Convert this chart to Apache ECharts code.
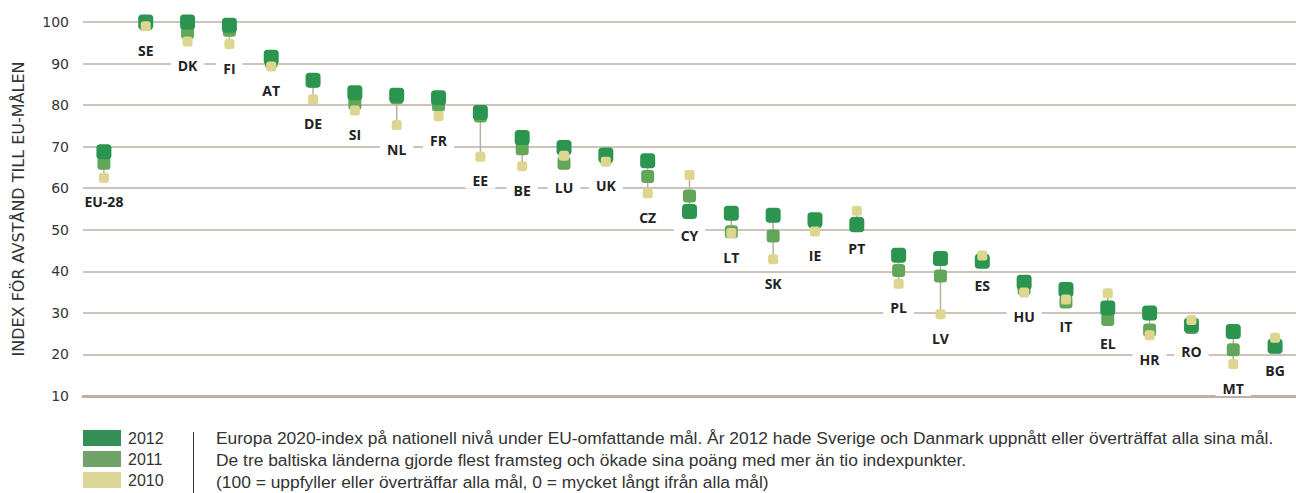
<!DOCTYPE html>
<html>
<head>
<meta charset="utf-8">
<script src="https://cdn.jsdelivr.net/npm/echarts@6/dist/echarts.min.js"></script>
<style>
html,body{margin:0;padding:0;background:#ffffff;}
#chart{width:1296px;height:493px;}
</style>
</head>
<body>
<div id="chart"></div>
<script>
const categories = ['EU-28','SE','DK','FI','AT','DE','SI','NL','FR','EE','BE','LU','UK','CZ','CY','LT','SK','IE','PT','PL','LV','ES','HU','IT','EL','HR','RO','MT','BG'];
const v2012 = [68.8, 100, 100, 99.2, 91.5, 86, 83, 82.4, 81.8, 78.2, 72.2, 69.8, 68.0, 66.6, 54.4, 54, 53.5, 52.4, 51.2, 43.9, 43.1, 42.4, 37.4, 35.6, 31.2, 30, 27, 25.5, 22];
const v2011 = [66, 99.5, 97.5, 98, 90.5, 85.8, 80.4, 81.8, 80, 77.4, 69.5, 66, 67.4, 62.8, 58.1, 49.5, 48.5, 51.8, 51.6, 40.2, 38.9, 42.6, 35.8, 32.6, 28.4, 25.9, 26.5, 21.1, 21.8];
const v2010 = [62.5, 99, 95.3, 94.7, 89.3, 81.4, 78.7, 75.2, 77.3, 67.6, 65.3, 67.8, 66.4, 58.8, 63.2, 49.2, 42.9, 49.6, 54.6, 37, 29.7, 43.8, 34.9, 33.2, 34.7, 24.6, 28.3, 17.7, 24];
const yTicks = [10, 20, 30, 40, 50, 60, 70, 80, 90, 100];
const yAxisName = 'INDEX FÖR AVSTÅND TILL EU-MÅLEN';
const years = ['2012', '2011', '2010'];
const noteLines = [
  'Europa 2020-index på nationell nivå under EU-omfattande mål. År 2012 hade Sverige och Danmark uppnått eller överträffat alla sina mål.',
  'De tre baltiska länderna gjorde flest framsteg och ökade sina poäng med mer än tio indexpunkter.',
  '(100 = uppfyller eller överträffar alla mål, 0 = mycket långt ifrån alla mål)'
];

const C12 = '#2b9550', C11 = '#62a65a', C10 = '#dcd690';
const L12 = '#348f57', L11 = '#6fa368', L10 = '#dcd598';

const chart = echarts.init(document.getElementById('chart'), null, {renderer: 'svg'});
const rangeData = categories.map((c, i) => [i, v2012[i], v2011[i], v2010[i]]);

const option = {
  backgroundColor: '#ffffff',
  animation: false,
  grid: {left: 83, right: -10, top: 22, bottom: 97},
  xAxis: {
    type: 'category',
    data: categories,
    boundaryGap: true,
    axisTick: {show: false},
    axisLabel: {show: false},
    axisLine: {show: true, lineStyle: {color: '#bdb1a7', width: 3}},
    splitLine: {show: false}
  },
  yAxis: {
    type: 'value',
    min: yTicks[0],
    max: yTicks[yTicks.length - 1],
    interval: 10,
    name: yAxisName,
    nameLocation: 'middle',
    nameGap: 57,
    nameTextStyle: {fontFamily: 'DejaVu Sans', fontSize: 16, color: '#333'},
    axisLine: {show: false},
    axisTick: {show: false},
    axisLabel: {fontFamily: 'DejaVu Sans', fontSize: 14, color: '#333', margin: 14},
    splitLine: {show: true, lineStyle: {color: '#cdc3bb', width: 2}}
  },
  legend: {
    orient: 'vertical',
    left: 83,
    top: 430,
    padding: 0,
    height: 70,
    itemWidth: 38,
    itemHeight: 16,
    itemGap: 5,
    icon: 'rect',
    selectedMode: false,
    textStyle: {fontFamily: 'Liberation Sans', fontSize: 16, color: '#333', padding: [0, 0, 0, 2]},
    data: [
      {name: years[0], itemStyle: {color: L12}},
      {name: years[1], itemStyle: {color: L11}},
      {name: years[2], itemStyle: {color: L10}}
    ]
  },
  graphic: [
    {type: 'line', shape: {x1: 193.5, y1: 432, x2: 193.5, y2: 493}, style: {stroke: '#333', lineWidth: 1}},
    {type: 'text', left: 216, top: 427, style: {text: noteLines.join('\n'), font: '17.4px "Liberation Sans"', fill: '#333', lineHeight: 22}}
  ],
  series: [
    {
      type: 'custom',
      name: 'range',
      data: rangeData,
      encode: {x: 0, y: [1, 2, 3]},
      renderItem: function (params, api) {
        const x = api.value(0);
        const vals = [api.value(1), api.value(2), api.value(3)];
        const hi = Math.max.apply(null, vals), lo = Math.min.apply(null, vals);
        const p1 = api.coord([x, hi]), p2 = api.coord([x, lo]);
        return {
          type: 'group',
          children: [
            {type: 'line', shape: {x1: p1[0], y1: p1[1], x2: p2[0], y2: p2[1]}, style: {stroke: '#bcae9f', lineWidth: 1.5}},
            {type: 'text', x: p2[0], y: p2[1] + 24, style: {
              text: categories[params.dataIndex], font: 'bold 14px "Open Sans"', fill: '#222',
              align: 'center', verticalAlign: 'middle', backgroundColor: '#ffffff', padding: [1, 7]
            }}
          ]
        };
      },
      z: 2
    },
    {type: 'scatter', name: years[1], data: v2011, symbol: 'roundRect', symbolSize: 13, itemStyle: {color: C11, opacity: 1}, z: 3},
    {type: 'scatter', name: years[0], data: v2012, symbol: 'roundRect', symbolSize: 15, itemStyle: {color: C12, opacity: 1}, z: 4},
    {type: 'scatter', name: years[2], data: v2010, symbol: 'roundRect', symbolSize: 10, itemStyle: {color: C10, opacity: 1}, z: 5}
  ]
};
chart.setOption(option);
</script>
</body>
</html>
